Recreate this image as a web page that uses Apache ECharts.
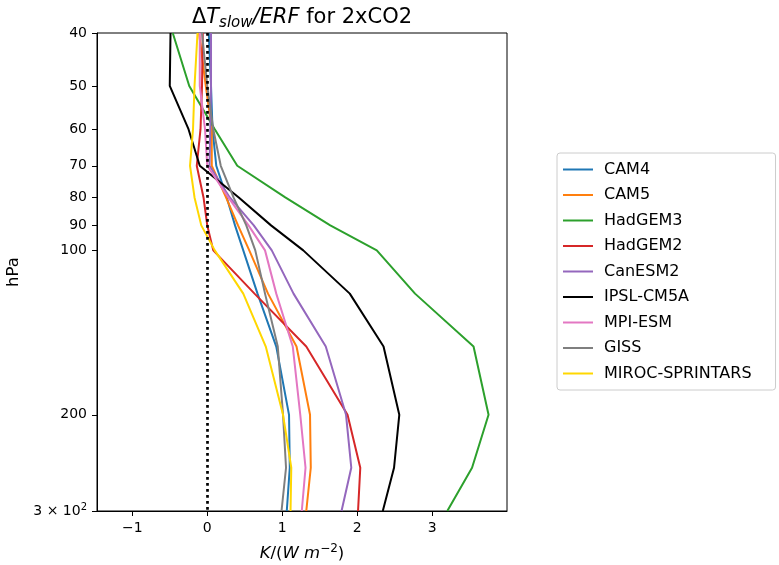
<!DOCTYPE html>
<html>
<head>
<meta charset="utf-8">
<script src="https://cdn.jsdelivr.net/npm/echarts@6/dist/echarts.min.js"></script>
<style>html,body{margin:0;padding:0;background:#fff}#c{width:779px;height:565px}</style>
</head>
<body>
<div id="c"></div>
<script>
const levels = [40, 50, 60, 70, 80, 90, 100, 120, 150, 200, 250, 300];
const yTicks = [40, 50, 60, 70, 80, 90, 100, 200, 300];
const xTicks = [-1, 0, 1, 2, 3];
const modelNames = ['CAM4', 'CAM5', 'HadGEM3', 'HadGEM2', 'CanESM2', 'IPSL-CM5A', 'MPI-ESM', 'GISS', 'MIROC-SPRINTARS'];
const CAM4 = [0.02, 0.05, 0.07, 0.12, 0.26, 0.37, 0.48, 0.67, 0.92, 1.09, 1.10, 1.06];
const CAM5 = [-0.11, -0.02, 0.06, 0.06, 0.25, 0.41, 0.56, 0.81, 1.19, 1.37, 1.38, 1.32];
const HadGEM3 = [-0.46, -0.24, 0.10, 0.40, 1.04, 1.64, 2.26, 2.77, 3.55, 3.75, 3.53, 3.20];
const HadGEM2 = [-0.06, -0.07, -0.09, -0.14, -0.05, 0.00, 0.08, 0.63, 1.32, 1.87, 2.04, 2.01];
const CanESM2 = [0.05, 0.05, 0.04, 0.03, 0.30, 0.62, 0.86, 1.15, 1.58, 1.85, 1.92, 1.79];
const IPSL = [-0.49, -0.50, -0.25, -0.10, 0.42, 0.85, 1.28, 1.90, 2.35, 2.56, 2.49, 2.34];
const MPI = [-0.10, -0.10, -0.03, 0.00, 0.28, 0.55, 0.77, 0.92, 1.14, 1.24, 1.31, 1.26];
const GISS = [-0.07, 0.00, 0.08, 0.18, 0.35, 0.52, 0.64, 0.77, 0.94, 1.01, 1.05, 0.99];
const MIROC = [-0.13, -0.17, -0.19, -0.23, -0.17, -0.08, 0.10, 0.48, 0.78, 1.01, 1.12, 1.11];
const allValues = [CAM4, CAM5, HadGEM3, HadGEM2, CanESM2, IPSL, MPI, GISS, MIROC];
const colors = ['#1f77b4', '#ff7f0e', '#2ca02c', '#d62728', '#9467bd', '#000000', '#e377c2', '#7f7f7f', '#ffd700'];
const zeroLine = 0;

const FONT = 'DejaVu Sans';
const chart = echarts.init(document.getElementById('c'), null, {renderer: 'canvas'});

const series = modelNames.map((n, i) => ({
  name: n,
  type: 'line',
  data: allValues[i].map((v, k) => [v, levels[k]]),
  symbol: 'none',
  lineStyle: {color: colors[i], width: 2},
  itemStyle: {color: colors[i]},
  emphasis: {disabled: true},
  animation: false,
  z: 2 + i * 0.01
}));
series[series.length - 1].markLine = {
  silent: true,
  symbol: ['none', 'none'],
  label: {show: false},
  animation: false,
  lineStyle: {color: '#000', width: 2.7, type: [2.7, 3.3], cap: 'butt'},
  emphasis: {disabled: true},
  data: [{xAxis: zeroLine}],
  z: 10
};

chart.setOption({
  animation: false,
  textStyle: {fontFamily: FONT},
  title: {
    text: '{n|Δ}{i|T}{sub|slow}{i|/ERF}{n| for 2xCO2}',
    left: 297, top: 0, textAlign: 'center',
    textStyle: {
      fontWeight: 'normal',
      rich: {
        n: {fontFamily: FONT, fontSize: 21, fontWeight: 'normal', color: '#000'},
        i: {fontFamily: FONT, fontSize: 21, fontWeight: 'normal', fontStyle: 'italic', color: '#000'},
        sub: {fontFamily: FONT, fontSize: 15, fontWeight: 'normal', fontStyle: 'italic', color: '#000', padding: [11, 0, 0, 0]}
      }
    }
  },
  legend: {
    data: modelNames,
    orient: 'vertical',
    left: 557, top: 153,
    padding: [8.5, 24, 8.5, 6],
    itemWidth: 30, itemHeight: 2,
    itemGap: 9.5,
    icon: 'rect',
    borderColor: '#cccccc', borderWidth: 1, borderRadius: 3,
    backgroundColor: '#fff',
    textStyle: {fontFamily: FONT, fontSize: 16, color: '#000', lineHeight: 16, padding: [0, 0, 0, 6]}
  },
  grid: {left: 97, right: 272, top: 33, bottom: 54, show: true, borderColor: '#000', borderWidth: 1,
    containLabel: false, outerBoundsMode: 'none'},
  xAxis: {
    type: 'value', min: -1.47, max: 3.996,
    splitLine: {show: false},
    axisLine: {onZero: false, lineStyle: {color: '#000', width: 1}},
    axisTick: {show: true, length: 5, lineStyle: {color: '#000'}, customValues: xTicks},
    axisLabel: {customValues: xTicks, color: '#000', fontSize: 14, fontFamily: FONT, margin: 10,
      formatter: v => String(Math.round(v)).replace('-', '\u2212')},
    name: '{i|K}{n|/(}{i|W m}{sup|\u22122}{n|)}',
    nameLocation: 'middle', nameGap: 32,
    nameTextStyle: {
      rich: {
        n: {fontFamily: FONT, fontSize: 16.5, color: '#000'},
        i: {fontFamily: FONT, fontSize: 16.5, fontStyle: 'italic', color: '#000'},
        sup: {fontFamily: FONT, fontSize: 12, color: '#000', padding: [0, 0, 9, 0]}
      }
    }
  },
  yAxis: {
    type: 'log', logBase: 10, inverse: true, min: 40, max: 300,
    splitLine: {show: false},
    minorTick: {show: false},
    axisLine: {onZero: false, lineStyle: {color: '#000', width: 1}},
    axisTick: {show: true, length: 5, lineStyle: {color: '#000'}, customValues: yTicks},
    axisLabel: {customValues: yTicks, color: '#000', fontSize: 14, fontFamily: FONT, margin: 10,
      formatter: v => {
        const r = Math.round(v);
        return r === 300 ? '3 \u00d7 10{sup|2}' : String(r);
      },
      rich: {sup: {fontSize: 10, fontFamily: FONT, color: '#000', padding: [0, 0, 7, 0]}}
    },
    name: 'hPa', nameLocation: 'middle', nameGap: 68, nameRotate: 90,
    nameTextStyle: {fontFamily: FONT, fontSize: 16.5, color: '#000'}
  },
  series: series
});
</script>
</body>
</html>
